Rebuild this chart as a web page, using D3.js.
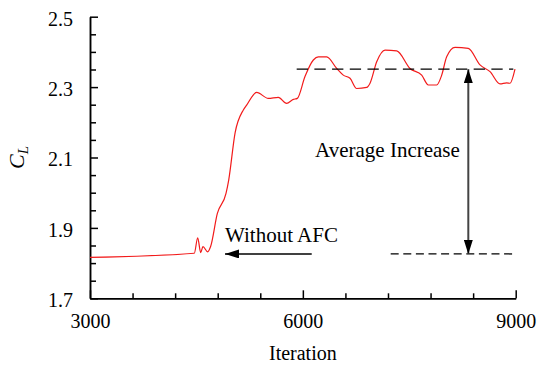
<!DOCTYPE html>
<html>
<head>
<meta charset="utf-8">
<script src="https://cdn.jsdelivr.net/npm/d3@7"></script>
<style>
  body { margin: 0; background: #fff; }
  svg text { font-family: "Liberation Serif", "Times New Roman", serif; fill: #000; }
</style>
</head>
<body>
<div id="chart"></div>
<script>
// lift coefficient history
var iterations = [3000, 4470, 4518, 4560, 4592, 4659, 4700, 4795, 4917, 4955, 5045, 5161, 5208,
                  5349, 5513, 5654, 5771, 5866, 5922, 6030, 6148, 6218, 6336, 6477, 6570, 6665,
                  6759, 6900, 6947, 7041, 7158, 7323, 7510, 7675, 7769, 7886, 7957, 8027, 8145,
                  8332, 8497, 8638, 8779, 8873, 8920, 8990];
var clValues = [1.816, 1.828, 1.872, 1.830, 1.847, 1.832, 1.847, 1.941, 1.998, 2.036, 2.170, 2.235, 2.249,
                2.285, 2.268, 2.271, 2.254, 2.265, 2.268, 2.330, 2.377, 2.386, 2.386, 2.353, 2.334, 2.325,
                2.296, 2.299, 2.311, 2.372, 2.405, 2.403, 2.353, 2.334, 2.306, 2.306, 2.334, 2.386, 2.413,
                2.410, 2.363, 2.344, 2.309, 2.312, 2.311, 2.351];

var xMajorTicks = [3000, 6000, 9000];
var xMinorTicks = [3600, 4200, 4800, 5400, 6600, 7200, 7800, 8400];
var yMajorTicks = [1.7, 1.9, 2.1, 2.3, 2.5];
var yMinorTicks = [1.75, 1.8, 1.85, 1.95, 2.0, 2.05, 2.15, 2.2, 2.25, 2.35, 2.4, 2.45];

// annotation levels
var avgWith = 2.351, avgWithout = 1.826;
var avgWithRange = [5913, 8966], avgWithoutRange = [7238, 9000];
var arrowIter = 8332;
var withoutArrow = [6125, 4903];

var data = iterations.map(function(d, i) { return {it: d, cl: clValues[i]}; });

var W = 539, H = 366;
var margin = {top: 16.7, right: 23.3, bottom: 67.7, left: 90};
var width = W - margin.left - margin.right,
    height = H - margin.top - margin.bottom;

var svg = d3.select("#chart").append("svg")
    .attr("width", W).attr("height", H);

var defs = svg.append("defs");
defs.append("marker").attr("id", "head")
    .attr("viewBox", "0 0 14 9").attr("refX", 14).attr("refY", 4.5)
    .attr("markerWidth", 14).attr("markerHeight", 9)
    .attr("markerUnits", "userSpaceOnUse").attr("orient", "auto-start-reverse")
  .append("path").attr("d", "M0,0L14,4.5L0,9Z").attr("fill", "#000");

var g = svg.append("g")
    .attr("transform", "translate(" + margin.left + "," + margin.top + ")");

var x = d3.scaleLinear().domain([3000, 9000]).range([0, width]);
var y = d3.scaleLinear().domain([1.7, 2.5]).range([height, 0]);

// axes: minor ticks first, then labelled majors
g.append("g").attr("transform", "translate(0," + height + ")")
    .call(d3.axisBottom(x).tickValues(xMinorTicks).tickSizeInner(-5).tickSizeOuter(0).tickFormat(""));
var xAx = g.append("g").attr("transform", "translate(0," + height + ")")
    .call(d3.axisBottom(x).tickValues(xMajorTicks).tickSizeInner(-8).tickSizeOuter(0).tickPadding(15.5).tickFormat(d3.format("d")));
g.append("g")
    .call(d3.axisLeft(y).tickValues(yMinorTicks).tickSizeInner(-6).tickSizeOuter(0).tickFormat(""));
var yAx = g.append("g")
    .call(d3.axisLeft(y).tickValues(yMajorTicks).tickSizeInner(-8).tickSizeOuter(0).tickPadding(17).tickFormat(d3.format(".1f")));

g.selectAll(".domain, .tick line").attr("stroke", "#000").attr("stroke-width", 1.5);
xAx.selectAll("text").attr("font-size", 20).attr("font-family", "Liberation Serif");
yAx.selectAll("text").attr("font-size", 20).attr("font-family", "Liberation Serif").attr("dy", "0.42em");

// axis titles
g.append("text")
    .attr("x", width / 2).attr("y", height + 61.7)
    .attr("text-anchor", "middle").attr("font-size", 20)
    .text("Iteration");

var yl = svg.append("text")
    .attr("transform", "translate(24,169) rotate(-90)")
    .attr("font-size", 22).attr("font-style", "italic");
yl.append("tspan").text("C");
yl.append("tspan").attr("font-size", 15).attr("dy", 4).text("L");

// CL history
var line = d3.line()
    .x(function(d) { return x(d.it); })
    .y(function(d) { return y(d.cl); })
    .curve(d3.curveMonotoneX);

g.append("path").datum(data)
    .attr("fill", "none").attr("stroke", "#f21b1b").attr("stroke-width", 1.2)
    .attr("d", line);

// average levels
g.append("line")
    .attr("x1", x(avgWithRange[0])).attr("x2", x(avgWithRange[1]))
    .attr("y1", y(avgWith)).attr("y2", y(avgWith))
    .attr("stroke", "#000").attr("stroke-width", 1.3).attr("stroke-dasharray", "11.3,6.4");
g.append("line")
    .attr("x1", x(avgWithoutRange[0])).attr("x2", x(avgWithoutRange[1]))
    .attr("y1", y(avgWithout)).attr("y2", y(avgWithout))
    .attr("stroke", "#000").attr("stroke-width", 1.3).attr("stroke-dasharray", "8,4.6");

// double arrow for the increase
g.append("line")
    .attr("x1", x(arrowIter)).attr("x2", x(arrowIter))
    .attr("y1", y(avgWith)).attr("y2", y(avgWithout))
    .attr("stroke", "#444").attr("stroke-width", 2)
    .attr("marker-start", "url(#head)").attr("marker-end", "url(#head)");

g.append("text")
    .attr("x", x(6173)).attr("y", y(2.102))
    .attr("font-size", 21)
    .text("Average Increase");

// baseline marker
g.append("line")
    .attr("x1", x(withoutArrow[0])).attr("x2", x(withoutArrow[1]))
    .attr("y1", y(avgWithout)).attr("y2", y(avgWithout))
    .attr("stroke", "#000").attr("stroke-width", 1.5)
    .attr("marker-end", "url(#head)");

g.append("text")
    .attr("x", x(4903)).attr("y", y(1.861))
    .attr("font-size", 21)
    .text("Without AFC");
</script>
</body>
</html>
